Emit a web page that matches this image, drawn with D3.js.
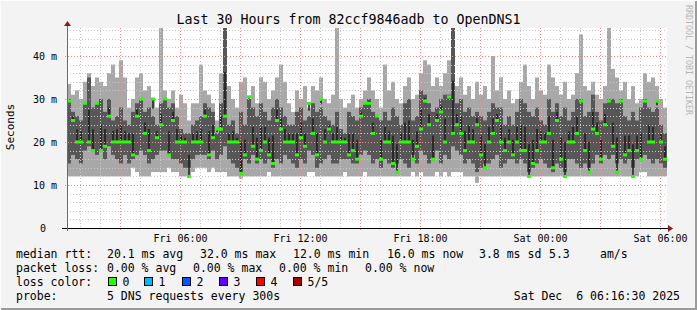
<!DOCTYPE html>
<html>
<head>
<meta charset="utf-8">
<script src="https://cdn.jsdelivr.net/npm/d3@7"></script>
<style>
  body { margin: 0; background: #f3f3f3; }
  svg { display: block; }
  text { font-family: "DejaVu Sans Mono", monospace; fill: #000; }
</style>
</head>
<body>
<script>
// smokeping style: 5 pings every 300s, shown here in 12 minute buckets
const pingMax = [33.5,31,32,30,34,36,33,35,34,33,36,38,35,39,35,28,30,35,36,32,33,30,28,46.5,32,30,32,28,31,29,25,29,29,38,32,31,29,25,
  36,46.5,33,30,28,34,35,30,33,29,35,34,30,32,35,38,34,29,27,32,30,33,28,33,32,35,30,29,31,46.5,30,28,29,31,28,30,32,
  35,32,30,28,38,32,34,30,29,33,35,30,31,36,39,38,33,35,33,36,39,46.5,33,35,31,33,30,34,31,33,30,40,32,35,30,32,29,30,
  34,38,33,30,35,32,31,38,35,33,31,34,30,31,36,45,33,32,34,31,30,33,46.5,37,35,32,34,30,33,29,30,36,34,35,33,30,28]
const pingHi = [30,27,26,25,29,35,28,29,30,27,30,25,26,28,25,24,27,29,30,27,28,26,24,29,30,28,29,26,23,22,22,24,25,26,29,28,27,22,
  29,46.5,24,25,22,27,24,30,28,26,29,27,25,28,30,28,26,24,24,27,28,25,26,29,27,28,26,25,24,27,23,22,27,26,25,28,29,
  30,27,26,25,27,25,28,26,24,29,30,25,26,32,31,29,27,28,30,31,31,46.5,29,30,27,28,26,27,26,25,27,29,28,28,24,26,24,27,
  30,29,27,26,28,25,24,30,27,29,26,28,25,27,30,30,26,27,31,27,25,29,30,30,29,30,26,25,27,25,28,30,28,27,28,24,22]
const pingLo = [15,17,16,15,18,19,18,17,18,16,19,17,16,15,17,15,16,17,18,17,15,16,17,18,18,17,16,16,15,14,14,16,17,17,17,16,18,16,
  17,19,16,15,14,13,16,15,17,15,16,15,16,14,16,15,17,16,15,14,16,15,18,17,14,15,16,17,15,15,16,16,16,15,15,17,18,
  17,15,16,14,16,15,14,15,16,15,14,17,15,18,17,15,16,18,15,17,16,19,18,17,15,16,15,13,14,15,15,16,17,14,15,16,16,15,
  16,15,13,14,15,16,15,14,13,15,14,13,16,16,15,14,15,14,15,17,15,17,16,17,15,16,15,16,14,16,16,17,16,15,16,15,14]
const pingMin = [12,12,12,12,12,12,12,12,12,12,12,12,12,12,12,12,14,13,12,12,12,13,13,13,13,14,13,13,12,12,12,13,14,14,14,13,14,13,
  13,13,12,12,12,11.5,12,12,12,12,12,12,13,12,12,12,12,12,12,12,12,12,13,13,12,12,12,12,12,12,12,13,12,12,12,12,13,
  12,12,12,12,12,12,12,12,12,12,12,13,12,13,12,12,12,13,12,13,12,13,13,13,12,12,12,10.5,12,12,12,12,12,12,12,12,12,12,
  12,12,12,12,12,12,12,12,12,12,12,12,12,12,12,12,12,12,12,12,12,12,12,12,12,12,12,12,12,12,13,13,12,12,12,12,12]
const median = [29.5,25,20,20,29,20,18,29,18,19,26,20,20,20,20,20,17,26,30,22,18,30,21,24,30,17,25,20,20,20,12,20,20,20,26,17,21,23,
  23,26,20,20,20,12.7,17,30.5,19,16,18,20,17,15,25,23,20,20,20,17,21,19,29,22,17,30,20,23,20,20,20,20,17,18,16,26,29,
  29,22,26,16,20,20,15,13,20,20,20,16,19,23,29.5,24,16,25,27,20,30.5,22,24,22,18,20,20,24,17,14,20,22,25,20,18,20,17,20,
  18,18,12,15,18,20,20,22,14,25,16,12,20,20,22,29.5,18,13,23,22,16,24,29.5,19,13,29.5,17,18,12,18,16,29.5,20,20,29.5,20,16]

const yTicks = [0, 10, 20, 30, 40]
const yTickLabels = ["0", "10 m", "20 m", "30 m", "40 m"]

const lossLabels = ["0", "1", "2", "3", "4", "5/5"]
const lossColors = ["#26ff00", "#00b8ff", "#0059ff", "#5e00ff", "#ff0000", "#a10000"]

const width = 697, height = 310
const plot = {left: 67, right: 667, top: 28, bottom: 228}

const tStart = Date.UTC(2025, 11, 5, 0, 21)
const tEnd = Date.UTC(2025, 11, 6, 6, 21)
const stepMs = 12 * 60 * 1000
const times = median.map((d, i) => new Date(tStart + i * stepMs))

const x = d3.scaleUtc()
  .domain([new Date(tStart), new Date(tEnd)])
  .range([plot.left, plot.right])

const y = d3.scaleLinear()
  .domain([0, 46.5])
  .range([plot.bottom, plot.top])

const svg = d3.select("body").append("svg")
  .attr("width", width)
  .attr("height", height)

// frame
svg.append("rect").attr("width", width).attr("height", height).attr("fill", "#f3f3f3")
svg.append("path").attr("d", `M0.5,${height - 0.5}V0.5H${width - 0.5}`).attr("stroke", "#fcfcfc").attr("fill", "none")
svg.append("path").attr("d", `M1,${height - 1}H${width - 1}V1`).attr("stroke", "#9b9b9b").attr("stroke-width", 2).attr("fill", "none")

svg.append("rect")
  .attr("x", plot.left).attr("y", plot.top)
  .attr("width", plot.right - plot.left).attr("height", plot.bottom - plot.top)
  .attr("fill", "#fff")

const colW = x(times[1]) - x(times[0])

// outer smoke
svg.append("g")
  .selectAll("rect")
  .data(times)
  .join("rect")
    .attr("x", d => x(d))
    .attr("width", colW)
    .attr("y", (d, i) => y(pingMax[i]))
    .attr("height", (d, i) => y(pingMin[i]) - y(pingMax[i]))
    .attr("fill", "#a8a8a8")

// inner smoke
svg.append("g")
  .selectAll("rect")
  .data(times)
  .join("rect")
    .attr("x", d => x(d))
    .attr("width", colW)
    .attr("y", (d, i) => y(pingHi[i]))
    .attr("height", (d, i) => y(pingLo[i]) - y(pingHi[i]))
    .attr("fill", "#575757")

// darkest core around the median
svg.append("g")
  .selectAll("rect")
  .data(times)
  .join("rect")
    .attr("x", d => x(d) + colW / 2 - 0.75)
    .attr("width", 1.5)
    .attr("y", (d, i) => y(Math.max(median[i], (median[i] + pingHi[i]) / 2)))
    .attr("height", (d, i) => Math.abs(y((median[i] + pingHi[i]) / 2) - y(median[i])) + 1)
    .attr("fill", "#1c1c1c")

// grid on top of the data, like rrdtool
const grid = svg.append("g").attr("shape-rendering", "crispEdges")
const hourTicks = x.ticks(d3.utcHour.every(1))
grid.selectAll(".vminor")
  .data(hourTicks.filter(d => d.getUTCHours() % 3 !== 0))
  .join("line")
    .attr("x1", d => Math.round(x(d)) + 0.5).attr("x2", d => Math.round(x(d)) + 0.5)
    .attr("y1", plot.top).attr("y2", plot.bottom)
    .attr("stroke", "#c8c8c8").attr("stroke-dasharray", "1,2")
grid.selectAll(".vmajor")
  .data(hourTicks.filter(d => d.getUTCHours() % 3 === 0))
  .join("line")
    .attr("x1", d => Math.round(x(d)) + 0.5).attr("x2", d => Math.round(x(d)) + 0.5)
    .attr("y1", plot.top).attr("y2", plot.bottom + 2)
    .attr("stroke", "#f08a8a").attr("stroke-dasharray", "1,2")
grid.selectAll(".hminor")
  .data(d3.range(2, 47, 2).filter(v => v % 10 !== 0))
  .join("line")
    .attr("x1", plot.left).attr("x2", plot.right)
    .attr("y1", d => Math.round(y(d)) + 0.5).attr("y2", d => Math.round(y(d)) + 0.5)
    .attr("stroke", "#c8c8c8").attr("stroke-dasharray", "1,2")
grid.selectAll(".hmajor")
  .data(yTicks.slice(1))
  .join("line")
    .attr("x1", plot.left - 2).attr("x2", plot.right)
    .attr("y1", d => Math.round(y(d)) + 0.5).attr("y2", d => Math.round(y(d)) + 0.5)
    .attr("stroke", "#f08a8a").attr("stroke-dasharray", "1,2")

// median marks
svg.append("g")
  .selectAll("rect")
  .data(times)
  .join("rect")
    .attr("x", d => x(d))
    .attr("width", colW)
    .attr("y", (d, i) => y(median[i]) - 1.5)
    .attr("height", 3)
    .attr("fill", lossColors[0])

// axes
const xAxis = g => g
  .attr("transform", `translate(0,${plot.bottom})`)
  .call(d3.axisBottom(x)
    .ticks(d3.utcHour.every(6))
    .tickFormat(d3.utcFormat("%a %H:%M"))
    .tickSize(0)
    .tickPadding(7))
  .call(g => g.select(".domain").remove())
  .call(g => g.selectAll("text").attr("font-size", 10).attr("font-family", "DejaVu Sans Mono"))

const yAxis = g => g
  .attr("transform", `translate(${plot.left - 7},0)`)
  .call(d3.axisLeft(y)
    .tickValues(yTicks)
    .tickFormat((d, i) => yTickLabels[i])
    .tickSize(0))
  .call(g => g.select(".domain").remove())
  .call(g => g.selectAll("text").attr("font-size", 10).attr("font-family", "DejaVu Sans Mono")
    .attr("dx", (d, i) => i === 0 ? -11 : 0))

svg.append("g").call(xAxis)
svg.append("g").call(yAxis)

svg.append("line")
  .attr("x1", plot.left - 5).attr("x2", plot.right + 1)
  .attr("y1", plot.bottom + 0.5).attr("y2", plot.bottom + 0.5)
  .attr("stroke", "#000")
svg.append("line")
  .attr("x1", plot.left + 0.5).attr("x2", plot.left + 0.5)
  .attr("y1", plot.bottom + 3).attr("y2", plot.top - 3)
  .attr("stroke", "#6a6a6a")
svg.append("path")
  .attr("d", `M${plot.right + 1},${plot.bottom - 3}L${plot.right + 6},${plot.bottom + 0.5}L${plot.right + 1},${plot.bottom + 4}Z`)
  .attr("fill", "#8b1a1a")
svg.append("path")
  .attr("d", `M${plot.left - 3},${plot.top - 2}L${plot.left + 0.5},${plot.top - 7}L${plot.left + 4},${plot.top - 2}Z`)
  .attr("fill", "#8b1a1a")

// titles
svg.append("text")
  .attr("x", width / 2).attr("y", 24)
  .attr("text-anchor", "middle")
  .attr("font-size", 13.3)
  .text("Last 30 Hours from 82ccf9846adb to OpenDNS1")

svg.append("text")
  .attr("transform", "translate(14,127) rotate(-90)")
  .attr("text-anchor", "middle")
  .attr("font-size", 11)
  .text("Seconds")

svg.append("text")
  .attr("transform", "translate(686,5) rotate(90)")
  .attr("font-size", 8.3)
  .style("fill", "#b5b5b5")
  .text("RRDTOOL / TOBI OETIKER")

// legend
const fs = 11.5
const row = (yy, items) => items.forEach(([xx, t]) =>
  svg.append("text").attr("x", xx).attr("y", yy).attr("font-size", fs).style("white-space", "pre").text(t))

row(258, [[16, "median rtt:"], [107, "20.1 ms avg"], [200, "32.0 ms max"], [293, "12.0 ms min"],
  [387, "16.0 ms now"], [479, "3.8 ms sd"], [549, "5.3"], [600, "am/s"]])
row(272, [[16, "packet loss:"], [107, "0.00 % avg"], [193, "0.00 % max"], [279, "0.00 % min"], [365, "0.00 % now"]])
row(286, [[16, "loss color:"]])
row(300, [[16, "probe:"], [107, "5 DNS requests every 300s"]])

svg.append("text")
  .attr("x", 680).attr("y", 300)
  .attr("text-anchor", "end")
  .attr("font-size", fs)
  .style("white-space", "pre")
  .text("Sat Dec  6 06:16:30 2025")

const swatchX = [108, 144, 182, 219, 256, 293]
const sw = svg.append("g").selectAll("g")
  .data(lossLabels)
  .join("g")
    .attr("transform", (d, i) => `translate(${swatchX[i]},277)`)
sw.append("rect")
  .attr("x", 0.5).attr("y", 0.5).attr("width", 8).attr("height", 8)
  .attr("fill", (d, i) => lossColors[i])
  .attr("stroke", "#000")
sw.append("text")
  .attr("x", 14.5).attr("y", 9)
  .attr("font-size", fs)
  .text(d => d)
</script>
</body>
</html>
